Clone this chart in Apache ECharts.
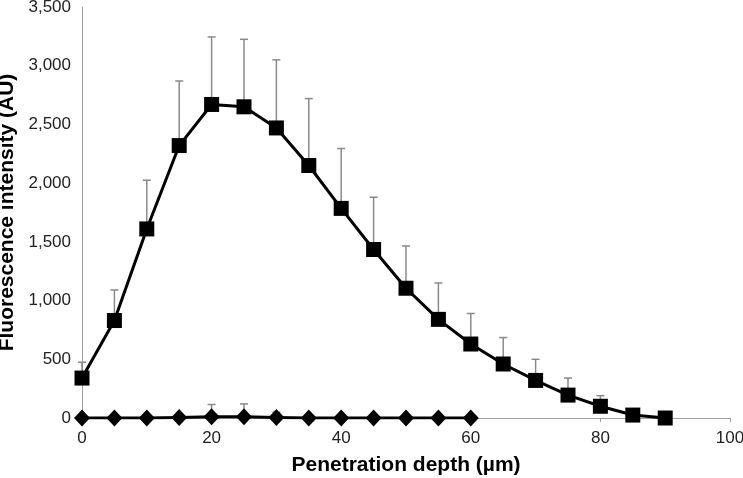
<!DOCTYPE html>
<html><head><meta charset="utf-8">
<script src="https://cdn.jsdelivr.net/npm/echarts@6/dist/echarts.min.js"></script>
<style>html,body{margin:0;padding:0;background:#fff}#c{width:743px;height:478px}</style>
</head><body><div id="c"></div>
<script>
var depthA = [0,5,10,15,20,25,30,35,40,45,50,55,60,65,70,75,80,85,90];
var meanA = [340,830,1610,2320,2670,2650,2470,2150,1785,1435,1105,840,630,460,320,195,100,25,0];
var errTopA = [475,1090,2025,2870,3245,3225,3050,2720,2295,1880,1465,1150,890,685,500,340,190,25,0];
var depthB = [0,5,10,15,20,25,30,35,40,45,50,55,60];
var meanB = [0,0,0,5,10,10,5,0,0,0,0,0,0];
var errTopB = [0,0,0,30,115,120,50,10,0,0,0,0,0];
var yTicks = [0,500,1000,1500,2000,2500,3000,3500];

function pairs(x,y){return x.map(function(v,i){return [v,y[i]];});}
function errData(x,m,t){return x.map(function(v,i){return [v,m[i],t[i]];});}
function errRender(params, api){
  var x = api.value(0), lo = api.value(1), hi = api.value(2);
  if (hi - lo < 1) return null;
  var p0 = api.coord([x, lo]), p1 = api.coord([x, hi]);
  var st = {stroke:'#8a8a8a', lineWidth:1.5};
  return {type:'group', children:[
    {type:'line', shape:{x1:p0[0],y1:p0[1],x2:p1[0],y2:p1[1]}, style:st},
    {type:'line', shape:{x1:p1[0]-4,y1:p1[1],x2:p1[0]+4,y2:p1[1]}, style:st}
  ]};
}
var chart = echarts.init(document.getElementById('c'));
chart.setOption({
  animation:false,
  grid:{left:82,right:13,top:7,bottom:60,containLabel:false,outerBoundsMode:'none'},
  xAxis:{type:'value',min:0,max:100,interval:20,
    name:'Penetration depth (µm)',nameLocation:'middle',nameGap:37,
    nameTextStyle:{fontFamily:'Liberation Sans',fontWeight:'bold',fontSize:21,color:'#000'},
    axisLine:{show:true,lineStyle:{color:'#a0a0a0',width:1}},
    axisTick:{show:true,length:4,lineStyle:{color:'#a0a0a0'}},
    axisLabel:{fontFamily:'Liberation Sans',fontSize:17,color:'#222',margin:12},
    splitLine:{show:false}},
  yAxis:{type:'value',min:0,max:3500,interval:500,
    name:'Fluorescence intensity (AU)',nameLocation:'middle',nameGap:59,
    nameTextStyle:{fontFamily:'Liberation Sans',fontWeight:'bold',fontSize:21,color:'#000'},
    axisLine:{show:true,lineStyle:{color:'#a0a0a0',width:1}},
    axisTick:{show:false},
    axisLabel:{fontFamily:'Liberation Sans',fontSize:17,color:'#222',margin:11,
      formatter:function(v){return v.toLocaleString('en-US');}},
    splitLine:{show:false}},
  series:[
    {type:'custom',renderItem:errRender,data:errData(depthA,meanA,errTopA),z:1,silent:true},
    {type:'custom',renderItem:errRender,data:errData(depthB,meanB,errTopB),z:1,silent:true},
    {type:'line',data:pairs(depthA,meanA),symbol:'rect',symbolSize:15,z:3,
      lineStyle:{color:'#000',width:3},itemStyle:{color:'#000'}},
    {type:'line',data:pairs(depthB,meanB),symbol:'diamond',symbolSize:[16,17],z:3,
      lineStyle:{color:'#000',width:3},itemStyle:{color:'#000'}}
  ]
});
</script></body></html>
